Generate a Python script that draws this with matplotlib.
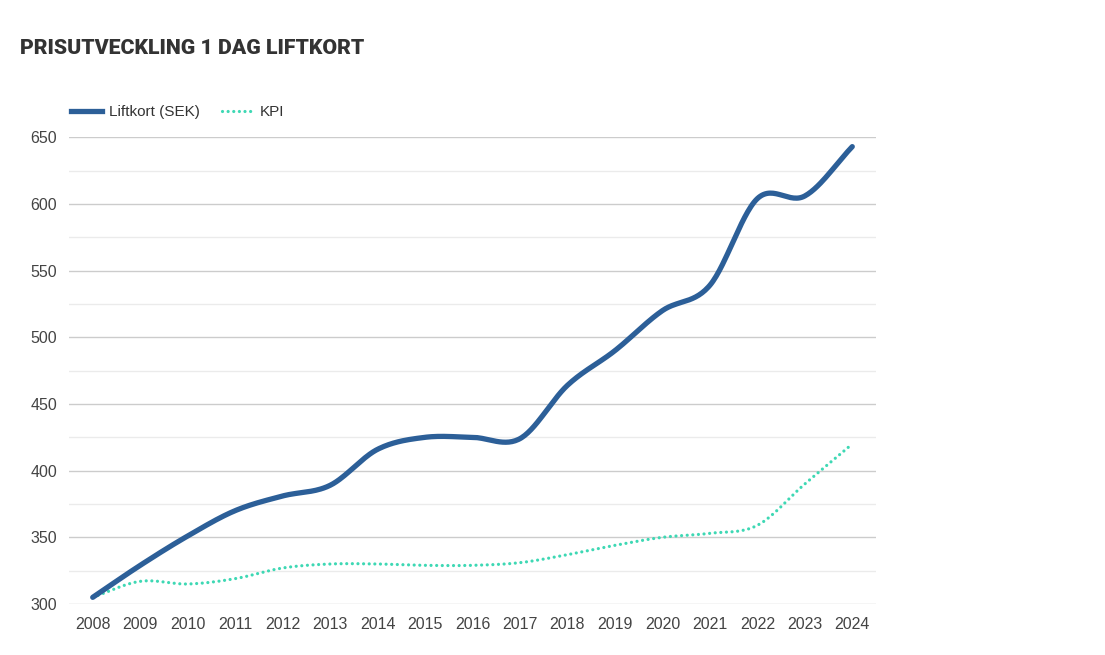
import numpy as np
import matplotlib
matplotlib.use("Agg")
import matplotlib.pyplot as plt
from matplotlib.lines import Line2D

years = [2008, 2009, 2010, 2011, 2012, 2013, 2014, 2015, 2016,
         2017, 2018, 2019, 2020, 2021, 2022, 2023, 2024]
liftkort = [305, 329, 351, 370, 381, 389, 416, 425, 425,
            424, 464, 490, 520, 539, 604, 606, 643]
kpi = [305, 317, 315, 319, 327, 330, 330, 329, 329,
       331, 337, 344, 350, 353, 359, 390, 420]
title = "PRISUTVECKLING 1 DAG LIFTKORT"
series_names = ["Liftkort (SEK)", "KPI"]
yticks = [300, 350, 400, 450, 500, 550, 600, 650]

BLUE = "#2c5f98"
TEAL = "#3ed8b4"
DOT = (0, (0.01, 1.75))


def catmull_rom(x, y, n=30):
    x = np.asarray(x, float)
    y = np.asarray(y, float)
    px = np.concatenate([[2 * x[0] - x[1]], x, [2 * x[-1] - x[-2]]])
    py = np.concatenate([[2 * y[0] - y[1]], y, [2 * y[-1] - y[-2]]])
    xs, ys = [], []
    t = np.linspace(0, 1, n, endpoint=False)
    for i in range(1, len(px) - 2):
        for arr, out in ((px, xs), (py, ys)):
            p0, p1, p2, p3 = arr[i - 1], arr[i], arr[i + 1], arr[i + 2]
            out.extend(0.5 * ((2 * p1) + (-p0 + p2) * t
                              + (2 * p0 - 5 * p1 + 4 * p2 - p3) * t ** 2
                              + (-p0 + 3 * p1 - 3 * p2 + p3) * t ** 3))
    xs.append(x[-1])
    ys.append(y[-1])
    return np.array(xs), np.array(ys)


plt.rcParams['font.family'] = ['Liberation Sans', 'DejaVu Sans']

fig = plt.figure(figsize=(11.05, 6.55), dpi=100)
ax = fig.add_axes([69 / 1105, 1 - 604 / 655, (876 - 69) / 1105, (604 - 137.3) / 655])

xi = np.arange(len(years))
sx, sy = catmull_rom(xi, liftkort)
kx, ky = catmull_rom(xi, kpi)

ax.plot(kx, ky, color=TEAL, lw=2.3, linestyle=DOT, zorder=3,
        dash_capstyle='round')
ax.plot(sx, sy, color=BLUE, lw=3.8, zorder=4, solid_capstyle='round')

ax.set_xlim(-0.5, len(years) - 0.5)
ax.set_ylim(300, 650)
ax.set_xticks(xi)
ax.set_xticklabels([str(y) for y in years])
ax.set_yticks(yticks)
ax.set_yticks(np.arange(325, 650, 50), minor=True)
ax.grid(axis='y', which='major', color='#cccccc', lw=1.0, zorder=0)
ax.grid(axis='y', which='minor', color='#ebebeb', lw=1.0, zorder=0)
ax.tick_params(axis='both', which='both', length=0, labelsize=11.5, colors='#444444')
ax.tick_params(axis='x', pad=9.5)
ax.tick_params(axis='y', pad=8.5)
for s in ax.spines.values():
    s.set_visible(False)

fig.text(20 / 1105, 1 - 48 / 655, title, fontsize=15.3, fontweight='black',
         family=['Roboto', 'DejaVu Sans'], color='#333333', va='center', ha='left')

handles = [Line2D([], [], color=BLUE, lw=3.8),
           Line2D([], [], color=TEAL, lw=2.3, linestyle=DOT, dash_capstyle='round')]
leg = fig.legend(handles, series_names, loc='center left',
                 bbox_to_anchor=(59 / 1105, 1 - 112 / 655), ncol=2, frameon=False,
                 fontsize=11, handlelength=2.0, handletextpad=0.45, columnspacing=1.5,
                 borderpad=0.3)
for t in leg.get_texts():
    t.set_color('#333333')

fig.savefig("out.png", dpi=100, facecolor='white')
